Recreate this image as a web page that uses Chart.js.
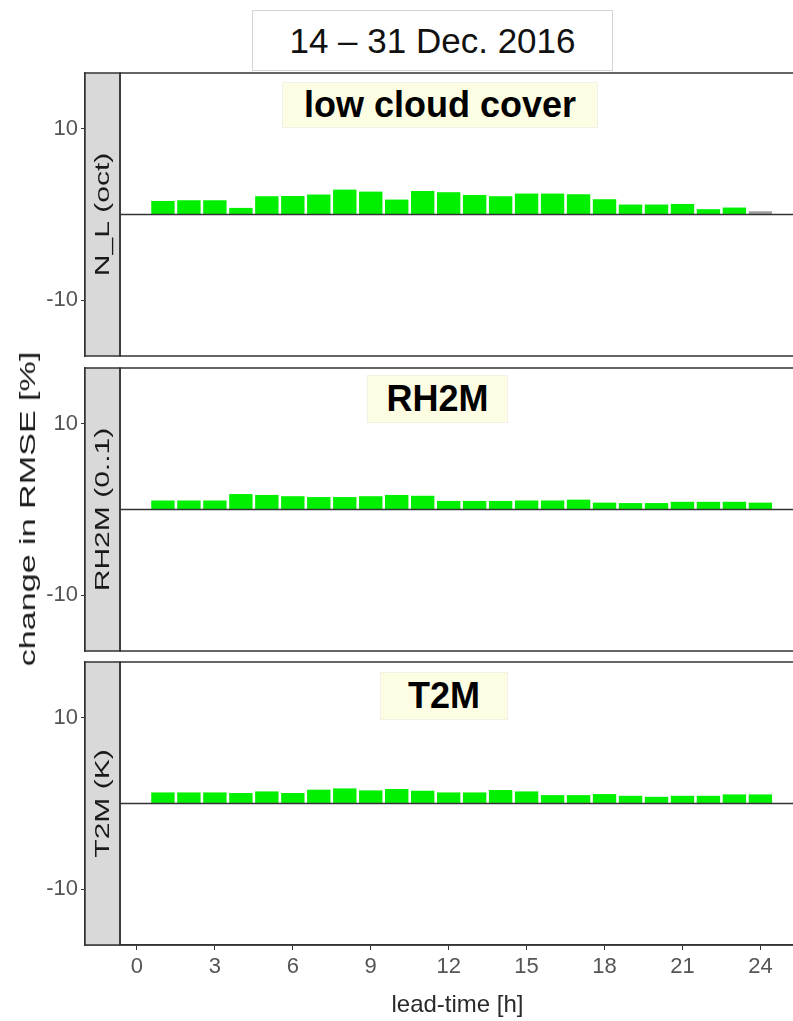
<!DOCTYPE html>
<html>
<head>
<meta charset="utf-8">
<script src="https://cdn.jsdelivr.net/npm/chart.js@4.4.1/dist/chart.umd.min.js"></script>
<style>
html, body { margin: 0; padding: 0; background: #fff; overflow: hidden; width: 793px; height: 1021px; }
body { position: relative; font-family: 'Liberation Sans', Arial, sans-serif; }
canvas { position: absolute; left: 0; }
.box { position: absolute; box-sizing: border-box; display: flex; align-items: center; justify-content: center; white-space: nowrap; }
#period { left: 252px; top: 10px; width: 361px; height: 61px; border: 1px solid #d4d4d4; font-size: 35px; color: #111; background: #fff; }
.tag { background: #fdfde3; border: 1px solid #f1f1e6; font-weight: bold; font-size: 36px; color: #000; }
#yTitle { position: absolute; left: 28px; top: 509px; font-size: 22px; color: #1a1a1a; white-space: nowrap;
          transform: translate(-50%, -50%) rotate(-90deg) scaleX(1.55); }
</style>
</head>
<body>
<canvas id="panel-nl" width="830" height="287" style="top:71px"></canvas>
<canvas id="panel-rh" width="830" height="287" style="top:366px"></canvas>
<canvas id="panel-t2m" width="830" height="361" style="top:660px"></canvas>

<div id="period" class="box">14 – 31 Dec. 2016</div>
<div class="box tag" style="left:282px; top:82px; width:316px; height:46px;">low cloud cover</div>
<div class="box tag" style="left:367px; top:375px; width:141px; height:48px;">RH2M</div>
<div class="box tag" style="left:380px; top:672px; width:128px; height:48px;">T2M</div>
<div id="yTitle">change in RMSE [%]</div>

<script>
// lead times (h) and axis ticks
const leadTimes = [1, 2, 3, 4, 5, 6, 7, 8, 9, 10, 11, 12, 13, 14, 15, 16, 17, 18, 19, 20, 21, 22, 23, 24];
const xTickValues = [0, 3, 6, 9, 12, 15, 18, 21, 24];
const yTickValues = [-10, 10];

// change in RMSE [%] per lead time
const nlChange = [1.58, 1.66, 1.66, 0.77, 2.13, 2.16, 2.33, 2.9, 2.67, 1.74, 2.74, 2.6,
                  2.28, 2.13, 2.44, 2.44, 2.36, 1.78, 1.16, 1.16, 1.23, 0.62, 0.81, 0.38];
const rhChange = [1.05, 1.05, 1.05, 1.8, 1.7, 1.55, 1.45, 1.45, 1.55, 1.7, 1.6, 1.0,
                  1.0, 1.0, 1.05, 1.05, 1.15, 0.8, 0.75, 0.75, 0.9, 0.9, 0.9, 0.8];
const t2mChange = [1.29, 1.29, 1.29, 1.22, 1.41, 1.22, 1.61, 1.76, 1.53, 1.69, 1.49, 1.29,
                   1.29, 1.57, 1.41, 0.98, 0.98, 1.1, 0.9, 0.78, 0.9, 0.9, 1.06, 1.06];

// lead times whose bar is grey (not significant) in the original
const nlGreyLeads = [24];

Chart.defaults.font.family = "'Liberation Sans', Arial, sans-serif";

const STRIP_W = 35;

// strip on the left, panel frame and zero line
const facetPlugin = {
    id: 'facet',
    afterDatasetsDraw(chart, args, opts) {
        const { ctx, chartArea: a, scales } = chart;
        ctx.save();
        ctx.strokeStyle = '#333';

        const y0 = scales.y.getPixelForValue(0);
        ctx.lineWidth = 1.3;
        ctx.beginPath();
        ctx.moveTo(a.left + STRIP_W, y0);
        ctx.lineTo(a.right, y0);
        ctx.stroke();

        ctx.fillStyle = '#d9d9d9';
        ctx.fillRect(a.left, a.top, STRIP_W, a.bottom - a.top);
        ctx.lineWidth = 1.5;
        ctx.strokeRect(a.left, a.top, STRIP_W, a.bottom - a.top);
        ctx.strokeRect(a.left + STRIP_W, a.top, a.right - a.left - STRIP_W, a.bottom - a.top);

        ctx.translate(a.left + STRIP_W / 2 + 1, (a.top + a.bottom) / 2);
        ctx.rotate(-Math.PI / 2);
        ctx.scale(1.43, 1);
        ctx.fillStyle = '#1a1a1a';
        ctx.font = "21px 'Liberation Sans', Arial, sans-serif";
        ctx.textAlign = 'center';
        ctx.textBaseline = 'middle';
        ctx.fillText(opts.label, 0, 0);
        ctx.restore();
    }
};

function makePanel(canvasId, stripLabel, values, greyLeads, showXAxis) {
    const ctx = document.getElementById(canvasId);
    return new Chart(ctx, {
        type: 'bar',
        data: {
            datasets: [{
                data: leadTimes.map((t, i) => ({ x: t, y: values[i] })),
                backgroundColor: leadTimes.map(t => greyLeads.includes(t) ? '#a0a0a0' : '#00f000'),
                borderWidth: 0,
                barPercentage: 0.9,
                categoryPercentage: 1
            }]
        },
        options: {
            responsive: false,
            animation: false,
            layout: { padding: { top: 2, bottom: showXAxis ? 0 : 2, left: 0, right: 0 } },
            plugins: {
                legend: { display: false },
                tooltip: { enabled: false },
                facet: { label: stripLabel }
            },
            scales: {
                x: {
                    type: 'linear',
                    min: -2.0,
                    max: 26.68,
                    offset: false,
                    display: showXAxis,
                    afterBuildTicks: s => { s.ticks = xTickValues.map(v => ({ value: v })); },
                    afterFit: s => {
                        if (showXAxis) s.height = 76;
                        s.paddingLeft = 0;
                        s.paddingRight = 0;
                    },
                    grid: { offset: false, drawOnChartArea: false, drawTicks: true, tickLength: 5, color: '#333' },
                    border: { display: true, color: '#333', width: 1.5 },
                    ticks: { font: { size: 22 }, color: '#555', padding: 4, maxRotation: 0, autoSkip: false },
                    title: {
                        display: true,
                        text: 'lead-time [h]',
                        font: { size: 24 },
                        color: '#2a2a2a',
                        padding: { top: 0, bottom: 1 }
                    }
                },
                y: {
                    min: -16.5,
                    max: 16.5,
                    afterBuildTicks: s => { s.ticks = yTickValues.map(v => ({ value: v })); },
                    afterFit: s => {
                        s.width = 85;
                        s.paddingTop = 0;
                        s.paddingBottom = 0;
                    },
                    grid: { drawOnChartArea: false, drawTicks: true, tickLength: 4, color: '#333' },
                    border: { display: true, color: '#333', width: 1.5 },
                    ticks: { font: { size: 22 }, color: '#555', padding: 3 }
                }
            }
        },
        plugins: [facetPlugin]
    });
}

makePanel('panel-nl', 'N_L (oct)', nlChange, nlGreyLeads, false);
makePanel('panel-rh', 'RH2M (0..1)', rhChange, [], false);
makePanel('panel-t2m', 'T2M (K)', t2mChange, [], true);
</script>
</body>
</html>
